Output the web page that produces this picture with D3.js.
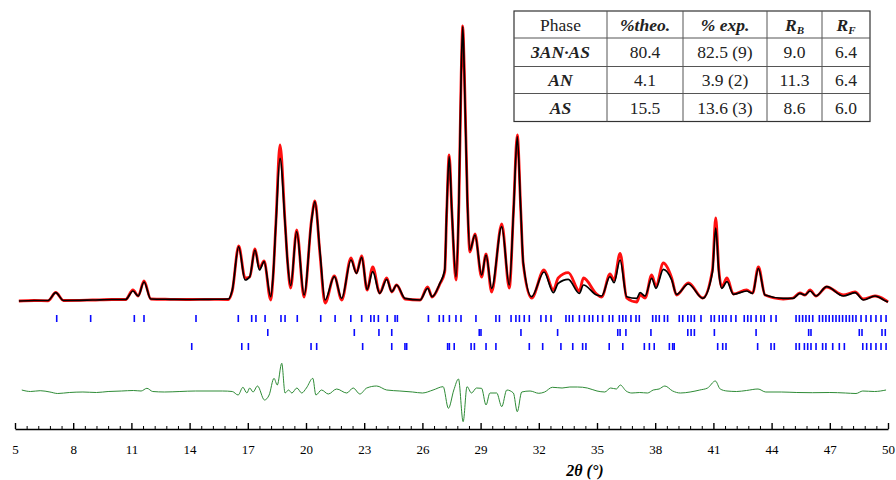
<!DOCTYPE html>
<html>
<head>
<meta charset="utf-8">
<script src="https://cdnjs.cloudflare.com/ajax/libs/d3/7.8.5/d3.min.js"></script>
<style>
  body { margin: 0; background: #fff; }
  svg { display: block; font-family: "Liberation Serif", "Times New Roman", serif; }
</style>
</head>
<body>
<script>
// 2θ grid of the profile, calculated and observed intensity (arbitrary units)
const twoTheta = [5.2, 6.0, 6.7, 7.1, 7.5, 9.0, 10.0, 10.7, 11.08, 11.35, 11.65, 12.0, 13.0, 14.0, 15.0,
  16.0, 16.2, 16.53, 16.86, 17.1, 17.37, 17.6, 17.84, 18.18, 18.3, 18.45, 18.66, 18.92, 19.05, 19.21,
  19.52, 19.9, 20.29, 20.46, 20.72, 20.98, 21.46, 21.84, 22.32, 22.6, 22.87, 23.15, 23.44, 23.8, 24.16,
  24.42, 24.67, 25.1, 25.88, 26.27, 26.5, 26.9, 27.15, 27.25, 27.38, 27.52, 27.73, 27.88, 28.0, 28.08,
  28.16, 28.32, 28.45, 28.71, 29.05, 29.28, 29.57, 30.09, 30.48, 30.7, 30.89, 31.07, 31.2, 31.63, 32.27,
  32.75, 33.0, 33.52, 34.09, 34.3, 34.98, 35.24, 35.67, 35.88, 36.19, 36.53, 37.05, 37.22, 37.48, 37.82,
  38.04, 38.42, 38.85, 39.1, 39.71, 40.45, 40.95, 41.12, 41.28, 41.43, 41.7, 42.03, 42.71, 43.02, 43.32,
  43.66, 44.6, 45.1, 45.46, 45.72, 45.98, 46.29, 46.84, 47.7, 48.3, 48.73, 49.33, 49.85, 50.0];

const yCalc = [1, 1.5, 1.5, 9.3, 1.5, 2, 2.5, 2.5, 11, 6, 20, 3, 2.7, 2.5, 2.7,
  3, 12, 55.3, 22, 25.3, 52, 32, 40.3, 5.3, 25, 78.7, 143.7, 78.7, 40, 16.3,
  70.3, 7, 82, 100.3, 50, 2, 25.3, 3.7, 42, 28.7, 44.7, 12.7, 30.3, 8.7, 22.7,
  10.3, 17, 3.7, 2, 13.7, 5.3, 18.7, 32, 90, 145.3, 90, 25.3, 100, 230, 275.3,
  230, 100, 52, 67, 27, 47, 13.7, 75.3, 17, 92, 165.3, 92, 39, 5.3, 30,
  9.3, 18.7, 22.7, 8.7, 17, 7, 6, 25.3, 19.3, 42, 5.3, 3.7, 9.3, 6, 23.7,
  13.7, 32.7, 22, 7.7, 18, 3.7, 30, 74, 30, 13.7, 20.3, 7.7, 11, 8.7, 33.7,
  7, 3.7, 3.7, 8.7, 7, 11, 6, 15.3, 6, 9.3, 2, 6, 1.3, 0];

const yObs = [1, 1.5, 1.2, 9.5, 1.5, 2, 2.5, 2.5, 12, 6, 21, 3, 2.7, 2.5, 2.7,
  2.5, 11, 56, 24, 25, 53, 34, 41, 2, 24, 80, 157, 80, 40, 14,
  72, 5, 83, 101, 48, -1, 26, 2, 44, 29, 46, 12, 35, 9, 24,
  10, 17, 3, 2, 15, 5, 18, 30, 88, 147, 90, 22, 98, 228, 276,
  232, 102, 50, 68, 25, 48, 10, 78, 14, 93, 167, 92, 38, 4, 32,
  12, 24, 29.3, 11, 24, 8, 5, 28, 22, 48.7, 4, 0, 7, 4, 27,
  16, 39, 24, 7, 19, 4, 32, 84, 32, 15, 24, 8, 12, 9, 35,
  7, 3, 4, 9, 7, 12, 6, 15, 7, 10, 3, 6, 2, 0];

// difference curve (obs - calc), own grid
const diffTheta = [5.35, 5.8, 6.3, 6.8, 7.2, 7.8, 8.5, 9.2, 9.8, 10.5, 11.1, 11.5, 11.8, 12.1, 12.7,
  13.5, 14.3, 15.0, 15.7, 16.2, 16.5, 16.75, 16.95, 17.1,
  17.27, 17.5, 17.86, 18.1, 18.35, 18.52, 18.75, 18.92, 19.1, 19.27, 19.53, 19.78, 20.02, 20.35, 20.51,
  20.8, 21.15, 21.58, 22.1, 22.43, 22.78, 23.13, 23.64, 24.16, 24.84, 25.5, 26.0, 26.55, 27.07, 27.34,
  27.62, 27.86, 28.1, 28.3, 28.53, 28.79, 29.05, 29.28, 29.48, 29.83, 30.09, 30.35, 30.69, 30.89, 31.12,
  31.55, 32.0, 32.3, 32.7, 33.2, 33.6, 34.0, 34.5, 35.0, 35.4, 35.7, 36.0, 36.2, 36.5, 36.8,
  37.2, 37.6, 37.9, 38.2, 38.5, 38.9, 39.3, 39.8, 40.3, 40.7, 41.1, 41.35, 41.7, 42.2, 42.7,
  43.3, 43.7, 44.5, 45.3, 46.1, 47.0, 47.8, 48.35, 48.7, 49.3, 49.9];
const yDiff = [1, -0.5, 0.3, -1, -2.5, -1.5, -1, -1.5, -0.5, 0, 0.5, 0, 2.7, -0.5, -1,
  -0.5, 0, 0, 0, -0.5, -4, 3.7, -2, 3,
  -1, 5, -9, -4, 12.7, 6, 27.7, -2, 1, -2, 3, -2, 3, 12.7, -4,
  1, -3, 2, -2, 3, -3, 3, 5, 1, 0, -1, -2, 1, 4.3, -17.3,
  1, 12, -30.7, 4.3, -2, 3, 2.7, -14, -2, -2, -15.7, 1, -2, -20.7, -1,
  0, -2.3, -1, 3.7, 3, 4, 4, 3, 0, -1, 3, 2, 6, 0, -2,
  -1.5, -2, 1, 2, 5, 0, -2, -1, 1, 3, 10, 2, 0, -0.5, 0.5,
  2, -1, -1, -1.5, -1.7, -1.5, -2, -2.5, 0, -0.5, 1];

// Bragg reflection positions (2θ) for each phase
const ticks3ANAS = [7.15, 8.90, 11.15, 11.65, 14.33, 16.51, 17.20, 17.42, 17.89, 18.71, 18.92, 19.55, 20.76,
  21.50, 22.31, 22.87, 23.34, 23.51, 23.73, 24.19, 24.59, 24.71, 26.31, 26.87, 27.08, 27.39, 27.73, 27.99,
  28.76, 29.79, 29.97, 30.57, 30.82, 31.00, 31.25, 31.51, 32.11, 32.37, 32.63, 33.40, 33.57, 33.75, 34.09,
  34.35, 34.60, 34.78, 35.04, 35.29, 35.63, 35.81, 36.15, 36.33, 36.49, 36.75, 37.01, 37.18, 37.87, 38.04,
  38.21, 38.47, 38.64, 39.24, 39.42, 39.68, 39.85, 40.02, 40.36, 40.88, 41.05, 41.30, 41.48, 41.65, 41.91,
  42.16, 42.59, 42.77, 42.94, 43.20, 43.45, 43.62, 43.97, 44.23, 45.26, 45.43, 45.60, 45.77, 45.94, 46.12,
  46.46, 46.63, 46.80, 46.97, 47.15, 47.32, 47.49, 47.66, 47.84, 48.01, 48.18, 48.35, 48.61, 48.87, 49.12,
  49.38, 49.64, 49.90];
const ticksAN = [18.03, 22.49, 23.76, 24.42, 28.93, 29.02, 31.08, 32.97, 36.07, 36.19, 36.49, 37.78, 39.68,
  39.85, 40.02, 41.05, 43.20, 45.91, 46.03, 48.52, 48.66, 49.69, 49.86];
const ticksAS = [14.11, 16.69, 17.03, 20.26, 20.55, 22.92, 24.42, 25.10, 25.19, 27.30, 27.39, 27.64, 28.51,
  28.68, 29.28, 29.79, 31.51, 32.20, 33.14, 33.75, 34.26, 34.43, 35.63, 36.33, 37.44, 37.70, 37.95, 38.73,
  38.90, 38.98, 41.22, 41.48, 41.65, 43.28, 43.97, 44.14, 45.26, 45.43, 45.69, 45.86, 46.03, 46.29, 46.63,
  46.80, 47.15, 47.49, 47.75, 48.70, 48.90, 49.12, 49.38, 49.64, 49.90];

// quantitative results table
const tableHeader = ["Phase", "%theo.", "% exp.", "R|B", "R|F"];
const phaseNames = ["3AN·AS", "AN", "AS"];
const pctTheo = ["80.4", "4.1", "15.5"];
const pctExp = ["82.5 (9)", "3.9 (2)", "13.6 (3)"];
const rBragg = ["9.0", "11.3", "8.6"];
const rF = ["6.4", "6.4", "6.0"];

const majorTicks = d3.range(5, 50.01, 3);

const W = 896, H = 480;
const svg = d3.select("body").append("svg").attr("width", W).attr("height", H);

const x = d3.scaleLinear().domain([5, 50]).range([15, 888]);
const y = d3.scaleLinear().domain([-130, 280]).range([432, 22]);

const diffZero = -89;            // where the difference curve sits
const tickRows = [-16.5, -30.5, -44.5];
const tickHalf = 3.5;

const line = d3.line().curve(d3.curveMonotoneX);

const obsPts = twoTheta.map((t, i) => [x(t), y(yObs[i])]);
const calcPts = twoTheta.map((t, i) => [x(t), y(yCalc[i])]);
const diffPts = diffTheta.map((t, i) => [x(t), y(yDiff[i] + diffZero)]);

svg.append("path").attr("d", line(obsPts))
  .attr("fill", "none").attr("stroke", "#ff1010").attr("stroke-width", 2.8);
svg.append("path").attr("d", line(calcPts))
  .attr("fill", "none").attr("stroke", "#000").attr("stroke-width", 1.7);

svg.append("path").attr("d", line(diffPts))
  .attr("fill", "none").attr("stroke", "#2e8b36").attr("stroke-width", 1);

// Bragg tick rows
[ticks3ANAS, ticksAN, ticksAS].forEach((arr, r) => {
  svg.append("g").selectAll("line").data(arr).enter().append("line")
    .attr("x1", d => x(d)).attr("x2", d => x(d))
    .attr("y1", y(tickRows[r] + tickHalf)).attr("y2", y(tickRows[r] - tickHalf))
    .attr("stroke", "#0a0aff").attr("stroke-width", 1.6);
});

// x axis, ticks pointing up
const axisY = 429;
const minor = d3.range(5, 50.01, 0.6).filter(v => Math.abs((v - 5) / 3 - Math.round((v - 5) / 3)) > 0.01);
svg.append("g").attr("transform", `translate(0,${axisY})`)
  .call(d3.axisBottom(x).tickValues(minor).tickSize(-3).tickSizeOuter(0).tickFormat(""))
  .call(g => g.select(".domain").remove());
const ax = svg.append("g").attr("transform", `translate(0,${axisY})`)
  .call(d3.axisBottom(x).tickValues(majorTicks).tickSize(-6).tickSizeOuter(0).tickPadding(16).tickFormat(d3.format("d")));
ax.selectAll("line, path").attr("stroke", "#000").attr("stroke-width", 1.4);
ax.selectAll("text").attr("font-size", 13).attr("font-family", "Liberation Serif, serif").attr("fill", "#000");

svg.append("text").attr("x", 585).attr("y", 476).attr("text-anchor", "middle")
  .attr("font-size", 16).attr("font-weight", "bold").attr("font-style", "italic")
  .text("2θ (°)");

// results table
const colEdges = [514, 607, 683, 767, 822, 870];
const rowEdges = [11, 38, 66.5, 93.5, 121.5];
const tbl = svg.append("g");
tbl.append("rect").attr("x", colEdges[0]).attr("y", rowEdges[0])
  .attr("width", colEdges[5] - colEdges[0]).attr("height", rowEdges[4] - rowEdges[0])
  .attr("fill", "#fff").attr("stroke", "#333").attr("stroke-width", 1.2);
colEdges.slice(1, -1).forEach(cx => tbl.append("line").attr("x1", cx).attr("x2", cx)
  .attr("y1", rowEdges[0]).attr("y2", rowEdges[4]).attr("stroke", "#555"));
rowEdges.slice(1, -1).forEach(ry => tbl.append("line").attr("y1", ry).attr("y2", ry)
  .attr("x1", colEdges[0]).attr("x2", colEdges[5]).attr("stroke", "#555"));

function cell(txt, c, r, bi) {
  const cx = (colEdges[c] + colEdges[c + 1]) / 2;
  const cy = (rowEdges[r] + rowEdges[r + 1]) / 2 + 6;
  const t = tbl.append("text").attr("x", cx).attr("y", cy).attr("text-anchor", "middle")
    .attr("font-size", 17.5).attr("fill", "#222");
  if (bi) t.attr("font-weight", "bold").attr("font-style", "italic");
  const parts = txt.split("|");
  t.append("tspan").text(parts[0]);
  if (parts[1]) t.append("tspan").attr("font-size", 11).attr("dy", 3).text(parts[1]);
}
tableHeader.forEach((h, c) => cell(h, c, 0, c > 0));
phaseNames.forEach((p, i) => {
  cell(p, 0, i + 1, true);
  cell(pctTheo[i], 1, i + 1, false);
  cell(pctExp[i], 2, i + 1, false);
  cell(rBragg[i], 3, i + 1, false);
  cell(rF[i], 4, i + 1, false);
});
</script>
</body>
</html>
